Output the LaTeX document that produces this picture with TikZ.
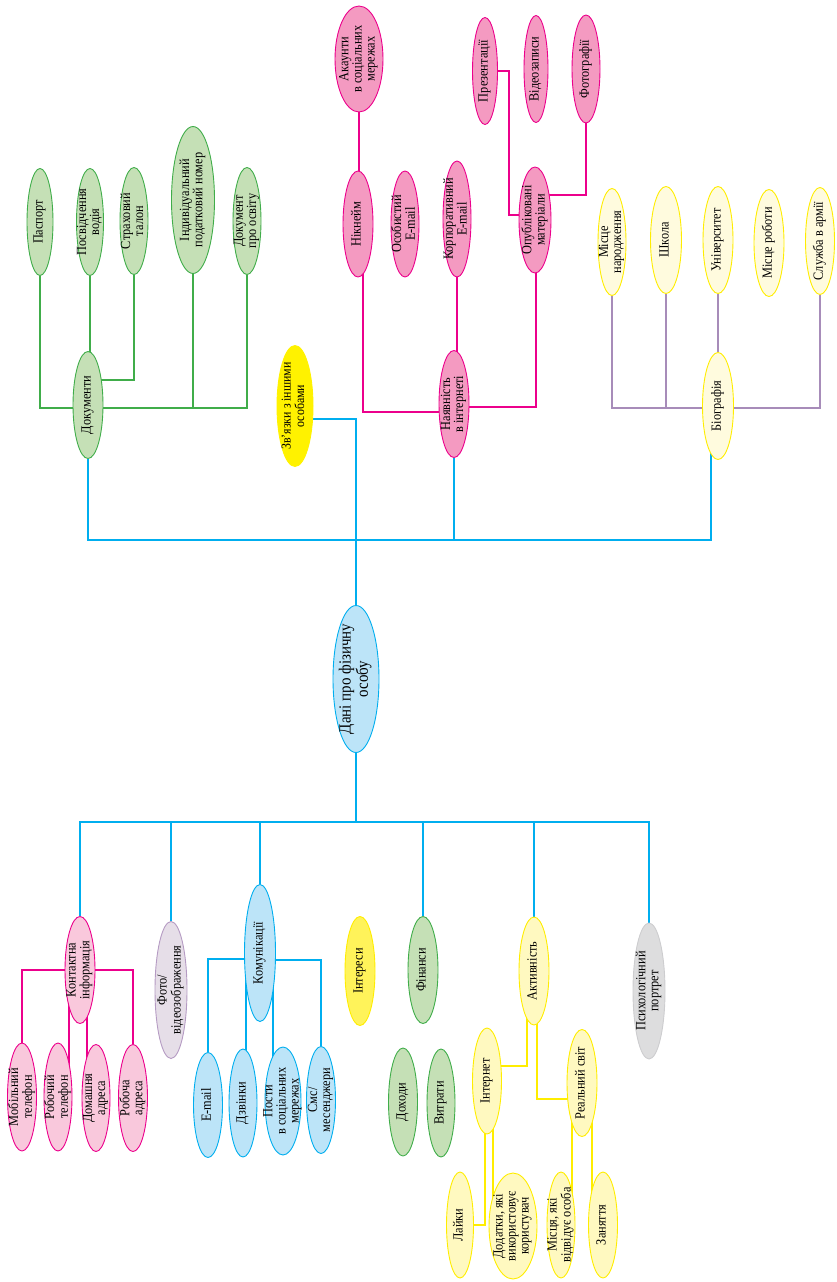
\documentclass[tikz,border=0pt]{standalone}
\usepackage{fontspec}
\setmainfont{Liberation Serif}[FakeStretch=0.88]
\usepackage{tikz}
\usetikzlibrary{shapes.geometric,calc,backgrounds}
\definecolor{lineblue}{RGB}{0,174,239}
\definecolor{bluefill}{RGB}{188,228,248}
\definecolor{docgreen}{RGB}{64,173,74}
\definecolor{docfill}{RGB}{197,224,182}
\definecolor{magline}{RGB}{236,0,140}
\definecolor{pinkfill}{RGB}{244,154,193}
\definecolor{pinklight}{RGB}{249,200,220}
\definecolor{yelline}{RGB}{255,237,0}
\definecolor{biofill}{RGB}{255,251,222}
\definecolor{actfill}{RGB}{255,249,192}
\definecolor{intfill}{RGB}{255,243,90}
\definecolor{zvfill}{RGB}{255,242,0}
\definecolor{purline}{RGB}{167,140,185}
\definecolor{fotofill}{RGB}{230,222,232}
\definecolor{fotoline}{RGB}{181,155,195}
\definecolor{greyfill}{RGB}{221,221,222}
\definecolor{greyline}{RGB}{205,205,207}
\newcommand\lbl[1]{\makebox[0pt]{\raisebox{-.25em}[0pt][0pt]{\begin{tabular}{@{}c@{}}#1\end{tabular}}}}
\tikzset{
  bub/.style 2 args={ellipse, minimum width=#1, minimum height=#2, inner sep=0pt,
    rotate=90, line width=0.9pt, font=\fontsize{14}{13}\selectfont},
  gbub/.style={draw=docgreen, fill=docfill},
  pbub/.style={draw=magline, fill=pinkfill},
  lpbub/.style={draw=magline, fill=pinklight},
  bbub/.style={draw=lineblue, fill=bluefill},
  ybub/.style={draw=yelline, fill=biofill},
  abub/.style={draw=yelline, fill=actfill},
  cline/.style={lineblue, line width=2pt},
  gline/.style={docgreen, line width=1.8pt},
  mline/.style={magline, line width=1.8pt},
  pline/.style={purline, line width=1.8pt},
  yline/.style={yelline, line width=2pt}
}
\begin{document}
\begin{tikzpicture}[x=1pt, y=-1pt]
\useasboundingbox (0,0) rectangle (837,1282);

% documents
\node[bub={107}{26}, gbub] (pasport) at (40,222) {\lbl{Паспорт}};
\node[bub={107}{27}, gbub] (vodiy) at (90,222) {\lbl{Посвідчення\\водія}};
\node[bub={107}{28}, gbub] (strah) at (134,221) {\lbl{Страховий\\талон}};
\node[bub={147}{43}, gbub] (inn) at (193,200) {\lbl{Індивідуальний\\податковий номер}};
\node[bub={107}{28}, gbub] (osvita) at (247,221) {\lbl{Документ\\про освіту}};
\node[bub={107}{30}, gbub] (docs) at (88,405) {\lbl{Документи}};

\node[bub={121}{36}, draw=zvfill, fill=zvfill, font=\fontsize{13.5}{13}\selectfont]
  (zvyazky) at (295,406) {\lbl{Зв’язки з іншими\\особами}};

% internet presence
\node[bub={106}{48}, pbub] (akaunt) at (359,59) {\lbl{Акаунти\\в соціальних\\мережах}};
\node[bub={106}{30}, pbub] (nick) at (358,224) {\lbl{Нікнейм}};
\node[bub={106}{28}, pbub] (email) at (405,224) {\lbl{Особистий\\E-mail}};
\node[bub={116}{28}, pbub] (korp) at (457,219) {\lbl{Корпоративний\\E-mail}};
\node[bub={106}{32}, pbub] (opub) at (535,220) {\lbl{Опубліковані\\матеріали}};
\node[bub={107}{25}, pbub] (prez) at (485,71) {\lbl{Презентації}};
\node[bub={107}{24}, pbub] (video) at (536,69) {\lbl{Відеозаписи}};
\node[bub={108}{28}, pbub] (foto) at (586,69) {\lbl{Фотографії}};
\node[bub={107}{30}, pbub] (net) at (454,404) {\lbl{Наявність\\в інтернеті}};

% biography
\node[bub={107}{28}, ybub] (misce) at (612,242) {\lbl{Місце\\народження}};
\node[bub={107}{31}, ybub] (shkola) at (666,240) {\lbl{Школа}};
\node[bub={107}{30}, ybub] (univ) at (718,240) {\lbl{Університет}};
\node[bub={107}{30}, ybub] (robota) at (769,243) {\lbl{Місце роботи}};
\node[bub={107}{29}, ybub] (armiya) at (820,241) {\lbl{Служба в армії}};
\node[bub={107}{31}, ybub] (bio) at (718,406) {\lbl{Біографія}};

% root
\node[bub={147}{46}, bbub, font=\fontsize{17}{17}\selectfont] (dani) at (356,679)
  {\lbl{Дані про фізичну\\особу}};

% lower branches
\node[bub={107}{30}, lpbub] (kontakt) at (80,970) {\lbl{Контактна\\інформація}};
\node[bub={137}{32}, draw=fotoline, fill=fotofill] (fotovid) at (171,990) {\lbl{Фото/\\відеозображення}};
\node[bub={137}{31}, bbub] (komun) at (260,953) {\lbl{Комунікації}};
\node[bub={109}{30}, draw=yelline, fill=intfill] (intres) at (360,971) {\lbl{Інтереси}};
\node[bub={107}{30}, gbub] (finansy) at (423,970) {\lbl{Фінанси}};
\node[bub={108}{30}, abub] (aktiv) at (534,971) {\lbl{Активність}};
\node[bub={136}{32}, draw=greyline, fill=greyfill] (psyh) at (649,991) {\lbl{Психологічний\\портрет}};

\node[bub={108}{29}, lpbub] (mobil) at (22,1097) {\lbl{Мобільний\\телефон}};
\node[bub={108}{28}, lpbub] (robtel) at (58,1097) {\lbl{Робочий\\телефон}};
\node[bub={107}{28}, lpbub] (domadr) at (96,1098) {\lbl{Домашня\\адреса}};
\node[bub={107}{29}, lpbub] (robadr) at (133,1098) {\lbl{Робоча\\адреса}};

\node[bub={105}{29}, bbub] (email2) at (208,1105) {\lbl{E-mail}};
\node[bub={108}{28}, bbub] (dzvinky) at (243,1103) {\lbl{Дзвінки}};
\node[bub={108}{36}, bbub] (posty) at (283,1101) {\lbl{Пости\\в соціальних\\мережах}};
\node[bub={107}{29}, bbub] (sms) at (321,1100) {\lbl{Смс/\\месенджери}};

\node[bub={108}{29}, gbub] (dohody) at (403,1102) {\lbl{Доходи}};
\node[bub={108}{28}, gbub] (vytraty) at (441,1103) {\lbl{Витрати}};

\node[bub={106}{29}, abub] (internet) at (487,1081) {\lbl{Інтернет}};
\node[bub={107}{30}, abub] (realsv) at (582,1083) {\lbl{Реальний світ}};
\node[bub={106}{27}, abub] (lajky) at (460,1225) {\lbl{Лайки}};
\node[bub={106}{48}, abub] (dodatky) at (513,1226) {\lbl{Додатки, які\\використовує\\користувач}};
\node[bub={106}{28}, abub] (miscya) at (561,1225) {\lbl{Місця, які\\відвідує особа}};
\node[bub={106}{29}, abub] (zanyattya) at (603,1225) {\lbl{Заняття}};

\begin{scope}[on background layer]
% green
\coordinate (dj) at ($(docs)+(0,3)$);
\draw[gline] (pasport) |- (dj);
\draw[gline] (vodiy) -- (vodiy |- docs);
\draw[gline] (strah) |- ($(docs)+(0,-25)$);
\draw[gline] (osvita) |- (dj);
\draw[gline] (inn) -- (inn |- dj);
% pink
\coordinate (nj) at ($(net)+(0,8)$);
\draw[mline] (akaunt) -- (akaunt |- nick);
\draw[mline] ($(nick)+(5,0)$) |- (nj);
\draw[mline] ($(email)+(2,0)$) -- ($(email)+(2,0)$ |- nj);
\draw[mline] (korp) -- (korp |- net);
\draw[mline] ($(opub)+(1,0)$) |- ($(net)+(0,3)$);
\coordinate (pj) at ($(opub)+(-26,-5)$);
\draw[mline] (prez) -| (pj) -- (pj -| opub);
\draw[mline] (foto) |- ($(opub)+(0,-25)$);
% biography
\coordinate (bj) at ($(bio)+(0,2)$);
\draw[pline] (misce) |- (bj);
\draw[pline] (shkola) -- (shkola |- bj);
\draw[pline] (univ) -- (bio);
\draw[pline] ($(robota)+(-9,0)$) -- ($(robota)+(-9,0)$ |- bj);
\draw[pline] (armiya) |- (bj);
% trunk
\coordinate (tj) at ($(dani)+(0,-139)$);
\coordinate (lj) at ($(dani)+(0,143)$);
\draw[cline] (docs) |- (tj) -| ($(bio)+(-7,0)$);
\draw[cline] (net) -- (net |- tj);
\draw[cline] ($(zvyazky)+(0,13)$) -| (dani);
\draw[cline] (dani) -- (lj);
\draw[cline] (kontakt) |- (lj) -| (psyh);
\draw[cline] (fotovid) -- (fotovid |- lj);
\draw[cline] (komun) -- (komun |- lj);
\draw[cline] (finansy) -- (finansy |- lj);
\draw[cline] (aktiv) -- (aktiv |- lj);
% contacts
\draw[mline] (mobil) |- (kontakt) -| (robadr);
\draw[mline] ($(kontakt)+(-11,0)$) -- ($(robtel)+(11,0)$);
\draw[mline] ($(kontakt)+(7,0)$) -- ($(domadr)+(-9,0)$);
% communications
\draw[cline] (email2) |- ($(komun)+(0,6)$);
\draw[cline] ($(komun)+(-14,0)$) -- ($(dzvinky)+(3,0)$);
\draw[cline] ($(komun)+(13,0)$) -- ($(posty)+(-10,0)$);
\draw[cline] ($(komun)+(0,7)$) -| (sms);
% activity
\draw[yline] ($(aktiv)+(-7,0)$) |- ($(internet)+(0,-15)$);
\draw[yline] ($(aktiv)+(3,0)$) |- ($(realsv)+(0,16)$);
\draw[yline] ($(internet)+(-2,0)$) |- (lajky);
\draw[yline] ($(internet)+(6,0)$) -- ($(dodatky)+(-20,0)$);
\draw[yline] ($(realsv)+(-10,0)$) -- ($(miscya)+(11,0)$);
\draw[yline] ($(realsv)+(10,0)$) -- ($(zanyattya)+(-11,0)$);
\end{scope}
\end{tikzpicture}
\end{document}
